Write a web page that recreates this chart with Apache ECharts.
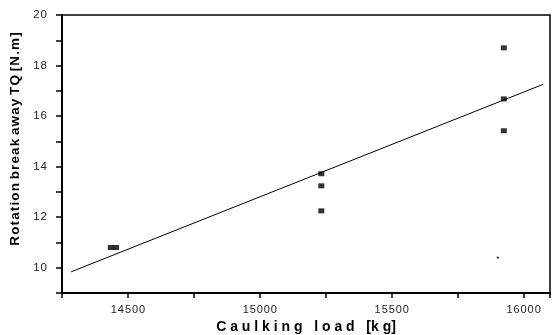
<!DOCTYPE html>
<html>
<head>
<meta charset="utf-8">
<script src="https://cdn.jsdelivr.net/npm/echarts@6/dist/echarts.min.js"></script>
<style>
  html, body { margin: 0; padding: 0; background: #fff; }
  #chart { width: 558px; height: 335px; }
</style>
</head>
<body>
<div id="chart"></div>
<script>
// measured points
var loadKg = [14435, 14455, 15233, 15233, 15233, 15925, 15925, 15925];
var torqueNm = [10.8, 10.8, 13.72, 13.24, 12.25, 18.7, 16.68, 15.42];
// stray speck in the scan
var speck = [[15902, 10.4]];
// linear fit, end points
var fitX = [14285, 16075];
var fitY = [9.84, 17.26];

var chart = echarts.init(document.getElementById('chart'));
var font = 'Liberation Sans, Arial, sans-serif';

var points = loadKg.map(function (x, i) { return [x, torqueNm[i]]; });
var fitLine = fitX.map(function (x, i) { return [x, fitY[i]]; });

// spread the characters of each word a little, like the scanned labels
function spaced(s) {
    return String(s).split(' ').map(function (w) { return w.split('').join('\u200A'); }).join(' ');
}

chart.setOption({
    animation: false,
    grid: {
        left: 62, right: 8, top: 15, bottom: 42,
        outerBoundsMode: 'none',
        show: true, borderColor: '#000', borderWidth: 1.5
    },
    xAxis: {
        type: 'value',
        min: 14250, max: 16100, interval: 250,
        name: 'C a u l k i n g   l o a d   [k g]',
        nameLocation: 'middle', nameGap: 27,
        nameTextStyle: { fontFamily: font, fontWeight: 'bold', fontSize: 14, color: '#000' },
        axisLine: { lineStyle: { color: '#000', width: 2 } },
        axisTick: { length: 5, lineStyle: { color: '#000', width: 1.5 } },
        splitLine: { show: false },
        axisLabel: {
            margin: 11, fontFamily: font, fontSize: 11, color: '#222',
            formatter: function (v) { return v % 500 === 0 ? spaced(v) : ''; }
        }
    },
    yAxis: {
        type: 'value',
        min: 9, max: 20, interval: 1,
        // leading spaces lift the centred title, as in the scan
        name: '\u00A0\u00A0\u00A0\u00A0\u00A0\u00A0\u00A0\u00A0' + spaced('Rotation break away TQ [N.m]'),
        nameLocation: 'middle', nameGap: 37, nameRotate: 90,
        nameTextStyle: { fontFamily: font, fontWeight: 'bold', fontSize: 13.5, color: '#000' },
        axisLine: { lineStyle: { color: '#000', width: 2 } },
        axisTick: { length: 6, lineStyle: { color: '#000', width: 1.5 } },
        splitLine: { show: false },
        axisLabel: {
            margin: 15, fontFamily: font, fontSize: 11.5, color: '#222',
            formatter: function (v) { return v % 2 === 0 && v >= 10 ? spaced(v) : ''; }
        }
    },
    series: [
        {
            type: 'line',
            data: fitLine,
            symbol: 'none',
            lineStyle: { color: '#000', width: 1 },
            z: 2
        },
        {
            type: 'scatter',
            data: points,
            symbol: 'rect',
            symbolSize: [6, 5],
            itemStyle: { color: '#000' },
            z: 3
        },
        {
            type: 'scatter',
            data: speck,
            symbol: 'rect',
            symbolSize: 2,
            itemStyle: { color: '#000' },
            z: 3
        }
    ]
});
</script>
</body>
</html>
